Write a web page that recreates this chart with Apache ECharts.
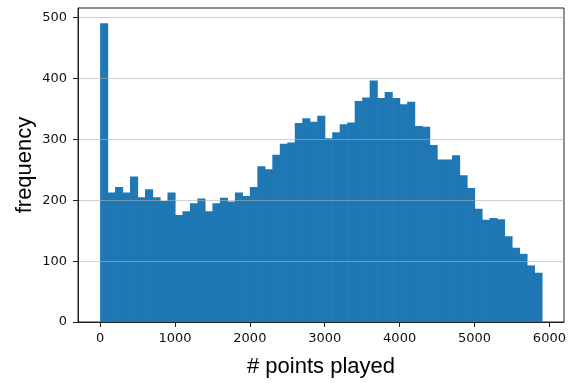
<!DOCTYPE html>
<html>
<head>
<meta charset="utf-8">
<script src="https://cdn.jsdelivr.net/npm/echarts@6/dist/echarts.min.js"></script>
<style>html,body{margin:0;padding:0;background:#fff}#c{width:578px;height:383px}</style>
</head>
<body>
<div id="c"></div>
<script>
const binWidth = 100;
const binStarts = [0,100,200,300,400,500,600,700,800,900,1000,1100,1200,1300,1400,1500,1600,1700,1800,1900,2000,2100,2200,2300,2400,2500,2600,2700,2800,2900,3000,3100,3200,3300,3400,3500,3600,3700,3800,3900,4000,4100,4200,4300,4400,4500,4600,4700,4800,4900,5000,5100,5200,5300,5400,5500,5600,5700,5800];
const frequencies = [491,213,222,213,239,205,218,205,199,213,176,182,195,203,182,195,204,198,213,207,222,256,251,275,293,295,327,335,329,339,302,312,325,328,363,369,397,368,378,368,358,362,322,321,291,267,267,274,241,220,186,168,171,169,141,122,112,93,81];
const xTicks = [0,1000,2000,3000,4000,5000,6000];
const yTicks = [0,100,200,300,400,500];
const xLabel = '# points played';
const yLabel = 'frequency';

const data = binStarts.map((s, i) => [s, s + binWidth, frequencies[i]]);

const chart = echarts.init(document.getElementById('c'), null, {renderer: 'canvas'});
chart.setOption({
  animation: false,
  grid: {left: 78, right: 14, top: 8, bottom: 60, show: true, borderColor: '#222', borderWidth: 1, backgroundColor: 'transparent'},
  xAxis: {
    type: 'value', min: -295, max: 6195, z: 5,
    name: xLabel, nameLocation: 'middle', nameGap: 34,
    nameTextStyle: {fontFamily: 'Liberation Sans', fontSize: 22, color: '#000'},
    axisLine: {show: true, onZero: false, lineStyle: {color: '#222', width: 1}},
    axisTick: {show: true, customValues: xTicks, length: 5, lineStyle: {color: '#222'}},
    axisLabel: {customValues: xTicks, margin: 10, fontFamily: 'DejaVu Sans', fontSize: 13, color: '#111', formatter: v => String(v)},
    splitLine: {show: false}
  },
  yAxis: {
    type: 'value', min: 0, max: 516, interval: 100, z: 5,
    name: yLabel, nameLocation: 'middle', nameGap: 42, nameMoveOverlap: false,
    nameTextStyle: {fontFamily: 'Liberation Sans', fontSize: 22, color: '#000'},
    axisLine: {show: true, onZero: false, lineStyle: {color: '#222', width: 1}},
    axisTick: {show: true, customValues: yTicks, length: 5, lineStyle: {color: '#222'}},
    axisLabel: {customValues: yTicks, margin: 11, fontFamily: 'DejaVu Sans', fontSize: 13, color: '#111', formatter: v => String(v)},
    splitLine: {show: true, lineStyle: {color: 'rgba(176,176,176,0.6)', width: 1}}
  },
  series: [{
    type: 'custom', z: 2,
    data: data,
    encode: {x: [0, 1], y: 2},
    renderItem: function (params, api) {
      const p0 = api.coord([api.value(0), api.value(2)]);
      const p1 = api.coord([api.value(1), 0]);
      return {
        type: 'rect',
        shape: {x: p0[0], y: p0[1], width: p1[0] - p0[0] + 0.6, height: p1[1] - p0[1]},
        style: {fill: '#1f77b4'}
      };
    }
  }]
});
</script>
</body>
</html>
